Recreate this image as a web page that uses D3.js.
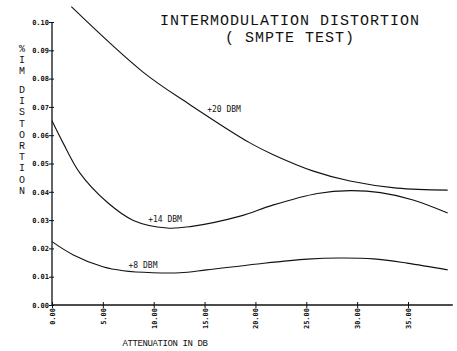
<!DOCTYPE html>
<html>
<head>
<meta charset="utf-8">
<script src="https://cdn.jsdelivr.net/npm/d3@7"></script>
<style>
  body { margin: 0; background: #fff; }
  svg { display: block; }
</style>
</head>
<body>
<div id="chart"></div>
<script>
// attenuation (dB) / % IM distortion
const atten8 = [0, 2.1, 5.0, 7.0, 9.9, 12.6, 15.2, 20.2, 25.1, 28.3, 31.6, 34.9, 38.9];
const dist8 = [0.0224, 0.0177, 0.0135, 0.0121, 0.0114, 0.0114, 0.0124, 0.0145, 0.0162, 0.0166, 0.0163, 0.0148, 0.0124];

const atten14 = [0, 1.1, 2.75, 5.4, 8.0, 11.3, 13.6, 18.5, 21.7, 26.1, 29.3, 32.3, 35.5, 38.9];
const dist14 = [0.0651, 0.0572, 0.0466, 0.0364, 0.0299, 0.0272, 0.0277, 0.0314, 0.0353, 0.0394, 0.0404, 0.0397, 0.0371, 0.0325];

const atten20 = [1.9, 8.95, 13.6, 19.5, 21.7, 25.7, 29.3, 33.9, 38.9];
const dist20 = [0.1054, 0.0823, 0.0707, 0.0572, 0.0532, 0.0473, 0.0438, 0.0413, 0.0406];

const seriesNames = ["+8 DBM", "+14 DBM", "+20 DBM"];
const xTicks = [0, 5, 10, 15, 20, 25, 30, 35];
const xTickLabels = ["0.00", "5.00", "10.00", "15.00", "20.00", "25.00", "30.00", "35.00"];
const yTicks = [0, 0.01, 0.02, 0.03, 0.04, 0.05, 0.06, 0.07, 0.08, 0.09, 0.10];
const yTickLabels = ["0.00", "0.01", "0.02", "0.03", "0.04", "0.05", "0.06", "0.07", "0.08", "0.09", "0.10"];

const width = 457, height = 351;
const ink = "#111";

const svg = d3.select("#chart").append("svg")
  .attr("width", width)
  .attr("height", height);

const x = d3.scaleLinear().domain([0, 35]).range([52, 408]);
const y = d3.scaleLinear().domain([0, 0.1]).range([305, 22]);

// x axis
const xAxis = svg.append("g")
  .attr("transform", "translate(0," + y(0) + ")")
  .call(d3.axisBottom(x).tickValues(xTicks).tickFormat((d, i) => xTickLabels[i]).tickSizeOuter(0));
xAxis.select(".domain").remove();
xAxis.selectAll(".tick line").attr("y1", -3).attr("y2", 3).attr("stroke", ink);
xAxis.selectAll(".tick text")
  .attr("transform", "rotate(-90)")
  .attr("x", -3).attr("y", 0).attr("dy", "0.35em")
  .attr("text-anchor", "end")
  .attr("font-family", "DejaVu Sans Mono")
  .attr("font-weight", "bold")
  .attr("font-size", 7)
  .attr("fill", ink);
svg.append("line")
  .attr("x1", x(0)).attr("x2", x(39.4))
  .attr("y1", y(0)).attr("y2", y(0))
  .attr("stroke", ink).attr("stroke-width", 1.3);

// y axis
const yAxis = svg.append("g")
  .attr("transform", "translate(" + x(0) + ",0)")
  .call(d3.axisLeft(y).tickValues(yTicks).tickFormat((d, i) => yTickLabels[i]).tickSizeOuter(0));
yAxis.select(".domain").remove();
yAxis.selectAll(".tick line").attr("x1", -3).attr("x2", 2).attr("stroke", ink);
yAxis.selectAll(".tick text")
  .attr("x", -3)
  .attr("font-family", "DejaVu Sans Mono")
  .attr("font-weight", "bold")
  .attr("font-size", 7)
  .attr("fill", ink);
svg.append("line")
  .attr("x1", x(0)).attr("x2", x(0))
  .attr("y1", y(0.1)).attr("y2", y(0))
  .attr("stroke", ink).attr("stroke-width", 1.3);

// curves
const line = d3.line()
  .x(d => x(d[0]))
  .y(d => y(d[1]))
  .curve(d3.curveCatmullRom.alpha(0.5));

[[atten8, dist8], [atten14, dist14], [atten20, dist20]].forEach(s => {
  svg.append("path")
    .datum(s[0].map((a, i) => [a, s[1][i]]))
    .attr("d", line)
    .attr("fill", "none")
    .attr("stroke", ink)
    .attr("stroke-width", 1.1);
});

// curve labels
const labelPos = [[143, 268], [165, 222], [224, 112]];
seriesNames.forEach((n, i) => {
  svg.append("text")
    .attr("x", labelPos[i][0]).attr("y", labelPos[i][1])
    .attr("text-anchor", "middle")
    .attr("font-family", "DejaVu Sans Mono")
    .attr("font-size", 8)
    .attr("fill", ink)
    .text(n);
});

// title
const title = ["INTERMODULATION DISTORTION", "( SMPTE TEST)"];
title.forEach((t, i) => {
  svg.append("text")
    .attr("x", 290).attr("y", 25 + i * 17)
    .attr("text-anchor", "middle")
    .attr("font-family", "Liberation Mono")
    .attr("font-size", 15)
    .attr("letter-spacing", 1)
    .attr("fill", ink)
    .text(t);
});

// x axis title
svg.append("text")
  .attr("x", 165).attr("y", 346)
  .attr("text-anchor", "middle")
  .attr("font-family", "Liberation Mono")
  .attr("font-size", 9)
  .attr("letter-spacing", -0.4)
  .attr("fill", ink)
  .text("ATTENUATION IN DB");

// y axis title, stacked letters
const yTitle = "%IMDISTORTION".split("");
const yTitlePos = [49, 60, 71, 90, 101, 112, 124, 135, 146, 157, 168, 180, 191];
yTitle.forEach((c, i) => {
  svg.append("text")
    .attr("x", 22).attr("y", yTitlePos[i] + 3)
    .attr("text-anchor", "middle")
    .attr("font-family", "Liberation Mono")
    .attr("font-size", 10)
    .attr("fill", ink)
    .text(c);
});
</script>
</body>
</html>
